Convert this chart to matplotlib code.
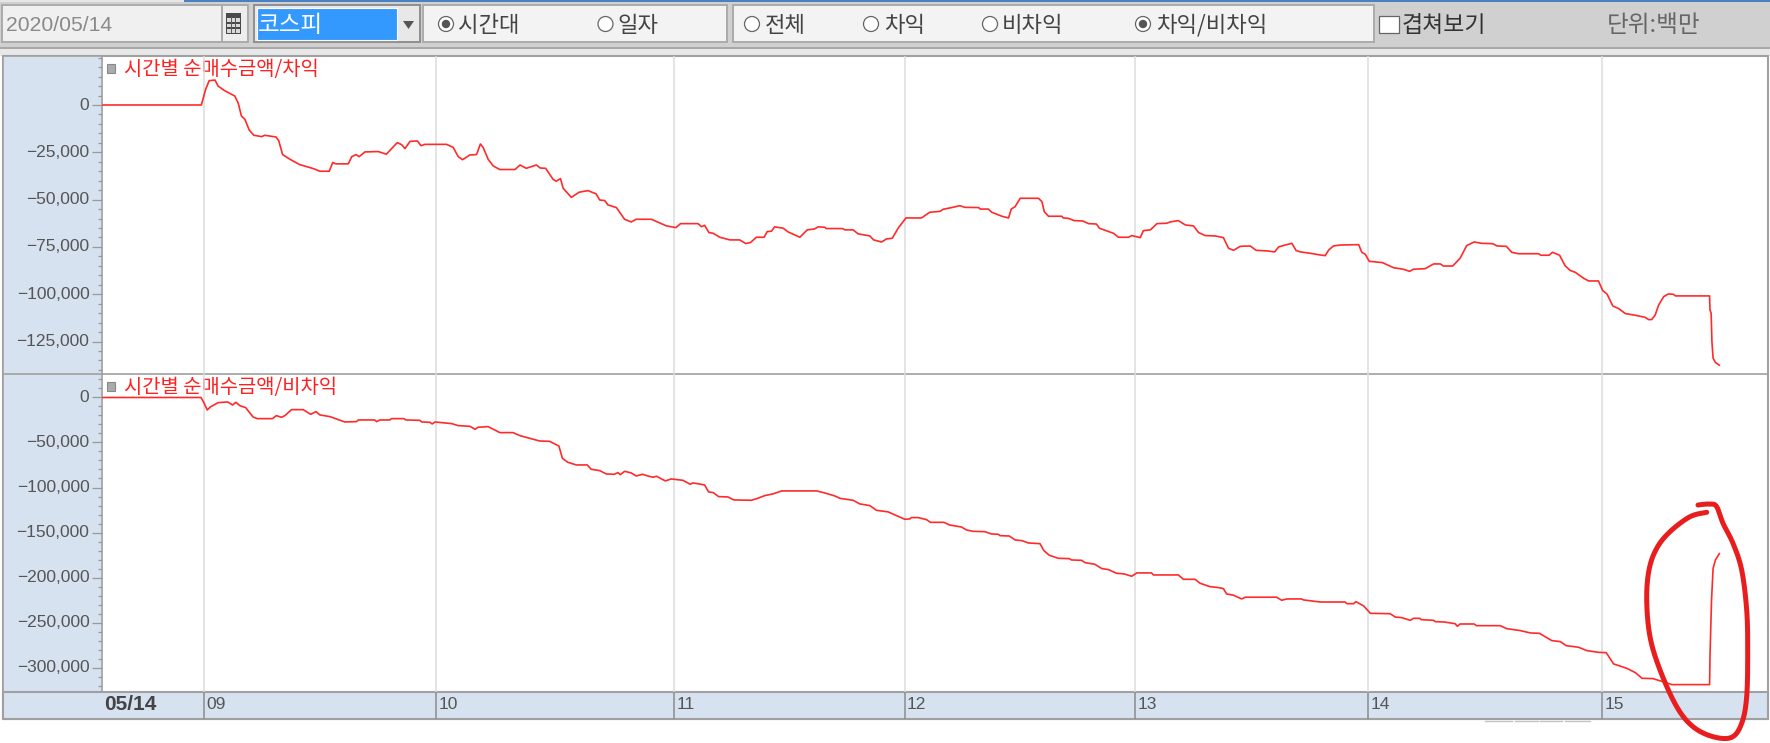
import numpy as np
import matplotlib
matplotlib.use("Agg")
import matplotlib.pyplot as plt
from matplotlib.patches import Rectangle, Circle, Polygon
from matplotlib.transforms import blended_transform_factory, ScaledTranslation
from matplotlib.ticker import MultipleLocator, FixedLocator

KR = ['Noto Sans CJK KR', 'DejaVu Sans']
LAT = ['Liberation Sans', 'DejaVu Sans']

# ---- data: minutes after 09:00, net purchase (million won) ----
top_minutes = [-26.1,-0.8,0.3,1.2,2.7,3.5,5.2,7.8,8.7,9.5,10.4,11.5,12.7,14.7,15.5,18.4,19.1,20.1,22,24.5,28,29.7,32.1,33,33.8,37,37.9,39,39.8,41.3,44.7,46.8,49.6,50.7,51.6,52.9,54.8,55.7,56.7,62.3,64,65.3,66.4,68.3,70,71,71.7,73,74.3,76,79.9,
 81.2,82.8,85.4,86.4,87.8,89.7,90.5,91.6,92.3,94.4,96.4,98.7,100.8,101.7,103,103.8,106,108.1,109.8,111.1,115,118.9,121.3,122.5,127,127.9,128.7,129.8,130.9,132.6,135.2,137.7,139.3,140.5,142,144,144.8,145.9,146.7,148.9,150.2,153.2,155.1,157,157.9,159.6,160,164.2,164.8,166.9,168.2,171.2,172.2,174.2,175.5,177,178.5,180.5,184.5,186.6,
 189.3,190.1,192.3,194.4,195.7,199.2,199.6,201.7,202.6,205.2,206.9,207.6,208.6,209.9,214.6,215.5,216.1,217.2,220.6,221,222.3,223.8,226,227.5,229.5,230.3,233.9,235.2,237.8,238.6,240.8,241.6,243.4,245.1,247.6,248.5,250.6,252.4,254.5,255.8,257.5,260.1,262.2,263.5,264.8,266.5,269.1,270.6,273.4,275.4,276.4,278.1,279.8,280.9,282,284.5,286.9,288.4,289.3,290.5,292.3,
 297,297.8,298.7,299.7,303.1,306,308.5,310.1,311.1,314.1,316.3,318,318.8,321.2,323.1,324.8,326.7,328.7,331.5,332.6,335,336.4,338.1,343.3,343.9,346,346.9,348.7,350.1,351.4,352.7,354.9,356.2,358.7,359.8,360.9,362.4,363.9,365.6,368.6,370.7,371.6,372.4,373.3,374.2,375.5,376.7,378,378.5,387.3,387.4,387.7,387.9,388.2,388.8,389.8]
top_values = [0,0,8270,12850,13200,10000,7570,4750,880,-5800,-7570,-13200,-16000,-16700,-16000,-16900,-18800,-26200,-28700,-31500,-33600,-35000,-35000,-30400,-31100,-31100,-27300,-26200,-27300,-24800,-24600,-26000,-19900,-20900,-23000,-19200,-19000,-21500,-20800,-20800,-22400,-27300,-28900,-26400,-26200,-20600,-22400,-28700,-32200,-34100,-34100,
 -31700,-33460,-31700,-33300,-33460,-39270,-40300,-38900,-44000,-48800,-46100,-45250,-47000,-50200,-50500,-52800,-54200,-60400,-61800,-60400,-60400,-63900,-64800,-62700,-62700,-64300,-63600,-67400,-67800,-69900,-71300,-71300,-73200,-72700,-69900,-69900,-66900,-66700,-64400,-65100,-67100,-69900,-66000,-65500,-64400,-64600,-65300,-65300,-66000,-66000,-68100,-69200,-71300,-72400,-70800,-70400,-65100,-59700,-59700,-56700,
 -56200,-55100,-54200,-53200,-54100,-54200,-55000,-55000,-56700,-58800,-59700,-55000,-53700,-49300,-49300,-51100,-56400,-58800,-58800,-59700,-59900,-61100,-61300,-62700,-62900,-65150,-67800,-69900,-69900,-69000,-70100,-66400,-66000,-62700,-62500,-61800,-61100,-63400,-63900,-67400,-69000,-69200,-70100,-75700,-76800,-74700,-74500,-76800,-77100,-77650,-75000,-74000,-73100,-76900,-77650,-78350,-79200,-79600,-76600,-74500,-74000,
 -73800,-77850,-78900,-82600,-83300,-86000,-86800,-87900,-86800,-86500,-84000,-84000,-85100,-85100,-81000,-74300,-72400,-73100,-73300,-74500,-74700,-77850,-78600,-78600,-79400,-79400,-77850,-79400,-84900,-87400,-88400,-91600,-93000,-93000,-98100,-99900,-106200,-107600,-110200,-111300,-112200,-113400,-113400,-111000,-105660,-101260,-99850,-100030,-100900,-100900,-108300,-110060,-125000,-133800,-136100,-137500]

bottom_minutes = [-26.1,-0.9,-0.2,0.7,1.5,3.5,6,7.2,8.1,9.1,10.6,12.5,13.6,17.5,18.5,19.8,20.7,22.4,25.4,27.3,28.7,29.7,32.3,33.5,36.1,39.1,39.6,43.8,44.3,45.1,47.7,48.1,51.3,51.8,55.4,55.9,58,58.6,59.3,63.6,65.3,68.3,69.6,70.4,73,76,79.4,
 81.2,83.7,86.2,88.8,91.2,92.1,93.5,95.7,98.5,99.5,101.7,103.4,105.4,106.4,107,108.1,109.8,111.1,112.7,114.1,115.4,116.3,118.6,120.1,123.1,125,125.7,128.7,129.7,130.9,132.3,134.7,136.2,140.7,142.2,144.2,146.3,148.5,157.5,159.6,162.2,163.5,166.9,168.6,171.2,172.9,175.9,180.2,181.5,181.9,
 183.6,185.8,186.8,190.3,191.7,194.8,196.1,197.8,200.8,202.5,204.3,204.7,207.1,208.6,210.3,212,215,216,217.4,219.7,222.5,223.1,225.7,226.6,229.1,230.9,232.6,234.7,236.6,238.6,239.9,243.7,244.2,250.6,251.9,254.9,256.2,258.7,260.9,262.2,263,264.8,266.9,267.8,275.9,277.2,278.5,282.3,282.8,
 287.1,293.5,294,295.7,296.3,298.3,300,305.1,306.4,308.1,310.3,311.1,312.7,313.1,316.3,316.7,319,321.8,322.4,323.1,326.7,327.3,333.4,335.1,338.6,341.2,343.5,346.7,348.9,350.4,353.6,355.7,358.7,360.7,362.6,366,368.2,369.9,372.7,375.5,377.6,387.3,387.4,387.8,388.2,388.8,389.8]
bottom_values = [0,0,-5350,-13860,-10530,-5720,-4980,-8310,-5350,-9050,-11270,-21630,-23480,-23480,-20150,-22000,-20150,-13490,-13490,-18670,-15710,-19410,-21260,-23110,-27180,-26810,-24960,-24960,-26810,-24960,-24960,-23480,-23480,-24960,-25330,-27180,-27550,-29400,-27180,-29030,-31250,-31990,-35320,-33100,-32360,-39020,-39020,
 -42400,-45350,-48300,-48700,-53860,-67550,-72000,-74950,-74950,-79760,-81240,-84940,-85300,-83500,-85700,-82000,-83800,-87200,-85300,-87200,-88600,-87500,-92700,-90500,-92000,-96400,-94900,-97150,-104900,-105660,-110100,-110500,-113800,-114200,-112300,-109000,-107100,-103800,-103800,-106000,-109400,-112000,-114200,-118200,-120100,-125300,-127100,-135300,-134900,-133400,
 -133400,-135700,-138700,-138700,-141650,-143900,-147200,-148700,-149050,-151600,-152000,-153500,-153900,-158300,-159000,-161600,-162400,-170100,-175300,-178650,-179000,-180500,-180900,-183500,-185300,-190100,-191200,-195300,-196000,-198600,-194900,-194900,-197150,-197150,-202000,-202000,-206400,-210100,-211200,-212300,-218200,-219700,-223800,-221900,-221900,-225300,-223800,-223800,-224900,
 -227200,-227200,-229100,-229100,-226850,-231650,-239800,-240200,-243900,-244600,-247600,-245350,-245350,-246800,-247600,-249050,-249400,-251300,-254200,-251640,-251640,-253500,-253500,-256800,-259000,-261600,-262000,-270100,-271250,-275700,-277500,-281200,-283100,-283500,-296000,-300900,-305700,-311950,-312300,-316000,-319000,-319000,-288000,-225000,-189800,-180500,-173500]

hour_labels = ['09', '10', '11', '12', '13', '14', '15']
# the chart's own hour grid is not quite evenly spaced
hour_minutes = [0, 59.7, 120.9, 180.25, 239.5, 299.5, 359.7]
top_ticks = [0, -25000, -50000, -75000, -100000, -125000]
bottom_ticks = [0, -50000, -100000, -150000, -200000, -250000, -300000]
top_title = '시간별 순매수금액/차익'
bottom_title = '시간별 순매수금액/비차익'
date_label = '05/14'
# hand-drawn annotation ring, in pixels of the image
ring_x = [1706.7,1690,1670,1656.7,1649,1646.7,1650,1660,1676.7,1693,1713,1731.7,1741.7,1746.7,1747.7,1746.7,1741.7,1733,1723,1716.7,1710,1698]
ring_y = [512.3,516.7,531.7,548.3,570,600,636.7,670,706.7,726.7,736.7,737.3,723.3,696.7,650,610,570,543.3,523.3,506.7,504,505]

W, H = 1770, 743
XMIN, XMAX = -26.5, 402.2
fig = plt.figure(figsize=(W / 100, H / 100), dpi=100, facecolor='white')

def frame(x0, y0, x1, y1):
    return [x0 / W, 1 - y1 / H, (x1 - x0) / W, (y1 - y0) / H]

# ---- window chrome, in image pixels ----
bg = fig.add_axes([0, 0, 1, 1], zorder=0)
bg.set_xlim(0, W); bg.set_ylim(H, 0); bg.axis('off')

def box(x0, y0, x1, y1, fc, ec='none', lw=1.0, ax=bg):
    ax.add_patch(Rectangle((x0, y0), x1 - x0, y1 - y0, facecolor=fc, edgecolor=ec, linewidth=lw))

def radio(cx, on):
    bg.add_patch(Circle((cx, 24), 7.5, facecolor='white', edgecolor='#666666', linewidth=0.9))
    if on:
        bg.add_patch(Circle((cx, 24), 4.2, facecolor='#555555', edgecolor='none'))

box(0, 0, W, 48, '#D0D0D0')
box(0, 0, 184, 2, '#E6E6E6')
box(184, 0, W, 2, '#4A80C4')
box(0, 48, W, 56, '#E8E8E8')
box(0, 47, W, 49, '#A8A8A8')
box(2, 5, 222, 42, '#F0F0F0', '#ABABAB', 1.4)
box(222, 5, 248, 42, '#EDEDED', '#ABABAB', 1.4)
box(225.5, 13, 241, 34, '#4A4A4A')
for yy in (18, 23.5, 29):
    box(227, yy, 239.5, yy + 3.5, '#DADADA')
for xx in (230.5, 235):
    box(xx, 17, xx + 1, 33, '#5A5A5A')
box(254, 5, 420, 42, '#E8E8E8', '#8F8F8F', 1.4)
box(257, 8, 397, 40, '#3399FF', 'white', 0.8)
bg.add_patch(Polygon([(403, 21), (414, 21), (408.5, 29)], closed=True, facecolor='#555555'))
box(423, 5, 727, 42, '#F3F3F3', '#ABABAB', 1.4)
box(733, 5, 1373.5, 42, '#F3F3F3', '#ABABAB', 1.4)
box(1379, 16, 1399, 33, 'white', '#666666', 0.9)

bg.text(6, 25.5, '2020/05/14', family=LAT, fontsize=15.2, color='#8A8A8A', va='center', ha='left')
bg.text(258, 25, '코스피', family=KR, fontsize=17, color='white', va='center', ha='left')
for cx, on, tx, label in [(446, True, 458, '시간대'), (605.5, False, 617, '일자'),
                          (752, False, 765, '전체'), (871, False, 884, '차익'),
                          (990, False, 1002, '비차익'), (1143, True, 1156, '차익/비차익')]:
    radio(cx, on)
    bg.text(tx, 25, label, family=KR, fontsize=16, color='#444444', va='center', ha='left')
bg.text(1402, 26, '겹쳐보기', family=KR, fontsize=16.5, color='#333333', va='center', ha='left')
bg.text(1607, 26, '단위:백만', family=KR, fontsize=17, color='#666666', va='center', ha='left')

# panel surround
box(2.5, 56, 1767.5, 719, 'white', '#A0A0A0', 1.5)
box(2.5, 56, 101.5, 692, '#D6E2F0', '#A0A0A0', 1.2)
box(2.5, 692, 1767.5, 719, '#D6E2F0', '#A0A0A0', 1.5)
bg.plot([2.5, 1767.5], [374, 374], color='#A0A0A0', lw=1.2, zorder=4)
for x0, x1 in [(1485, 1512), (1515, 1538), (1540, 1562), (1565, 1590)]:
    bg.plot([x0, x1], [721, 721], color='#C4C4C4', lw=1)

# ---- chart panels ----
def panel(y0, y1, vtop, vbottom, minutes, values, ticks, minor, title):
    ax = fig.add_axes(frame(101.5, y0, 1767.5, y1), zorder=2)
    ax.patch.set_alpha(0)
    ax.set_xlim(XMIN, XMAX); ax.set_ylim(vbottom, vtop)
    for s in ax.spines.values():
        s.set_visible(False)
    ax.set_xticks(hour_minutes); ax.tick_params(axis='x', length=0, labelbottom=False)
    ax.xaxis.grid(True, color='#DCDCDC', lw=1.1); ax.yaxis.grid(False)
    ax.set_axisbelow(True)
    ax.yaxis.set_major_locator(FixedLocator(ticks))
    ax.yaxis.set_minor_locator(MultipleLocator(minor))
    ax.set_yticklabels([f'{t:,}'.replace('-', '\u2212') for t in ticks], family=LAT,
                       fontsize=12.5, color='#555555')
    ax.tick_params(axis='y', which='major', length=7.2, width=0.9, color='#9A9A9A', pad=1.5)
    ax.tick_params(axis='y', which='minor', length=3, width=0.9, color='#9A9A9A')
    up = ScaledTranslation(0, 1.5 / 100, fig.dpi_scale_trans)
    for lab in ax.get_yticklabels():
        lab.set_transform(lab.get_transform() + up)
    ax.plot(minutes, values, color='#FF2A2A', lw=1.2, solid_joinstyle='round', clip_on=False)
    bg.add_patch(Rectangle((107, y0 + 8), 7.5, 9, facecolor='#ABABAB', edgecolor='#8A8A8A', linewidth=0.8))
    bg.text(124, y0 + 13, title, family=KR, fontsize=14.3, color='#FF2020', va='center', ha='left', zorder=5)
    return ax

ax1 = panel(56, 374, 25900, -142170, top_minutes, top_values, top_ticks, 5000, top_title)
ax2 = panel(374, 692, 26100, -327200, bottom_minutes, bottom_values, bottom_ticks, 10000, bottom_title)

# ---- time bar ----
ax3 = fig.add_axes(frame(101.5, 692, 1767.5, 719), zorder=2)
ax3.patch.set_alpha(0); ax3.set_xlim(XMIN, XMAX); ax3.set_ylim(0, 1); ax3.axis('off')
ax3.vlines(hour_minutes, 0, 1, color='#8C8C8C', lw=1.1)
tr = blended_transform_factory(ax3.transData, ax3.transAxes)
for m, lab in zip(hour_minutes, hour_labels):
    ax3.annotate(lab, (m, 0.52), xycoords=tr, xytext=(1.5, 0), textcoords='offset points',
                 family=LAT, fontsize=12.5, color='#555555', va='center', ha='left')
bg.text(104.5, 704, date_label, family=LAT, fontsize=15, fontweight='bold', color='#444444',
        va='center', ha='left')

# ---- hand-drawn ring, on top of everything ----
over = fig.add_axes([0, 0, 1, 1], zorder=5)
over.patch.set_alpha(0); over.set_xlim(0, W); over.set_ylim(H, 0); over.axis('off')

def catmull(xs, ys, n=14):
    p = np.column_stack([xs, ys])
    p = np.vstack([p[0], p, p[-1]])
    out = []
    for i in range(1, len(p) - 2):
        for t in np.linspace(0, 1, n, endpoint=False):
            out.append(0.5 * (2 * p[i] + (p[i + 1] - p[i - 1]) * t
                              + (2 * p[i - 1] - 5 * p[i] + 4 * p[i + 1] - p[i + 2]) * t ** 2
                              + (3 * p[i] - p[i - 1] - 3 * p[i + 1] + p[i + 2]) * t ** 3))
    out.append(p[-2])
    return np.array(out)

c = catmull(ring_x, ring_y)
over.plot(c[:, 0], c[:, 1], color='#E81E1E', lw=3.6, solid_capstyle='round', solid_joinstyle='round', clip_on=False)

fig.savefig('out.png', dpi=100)
